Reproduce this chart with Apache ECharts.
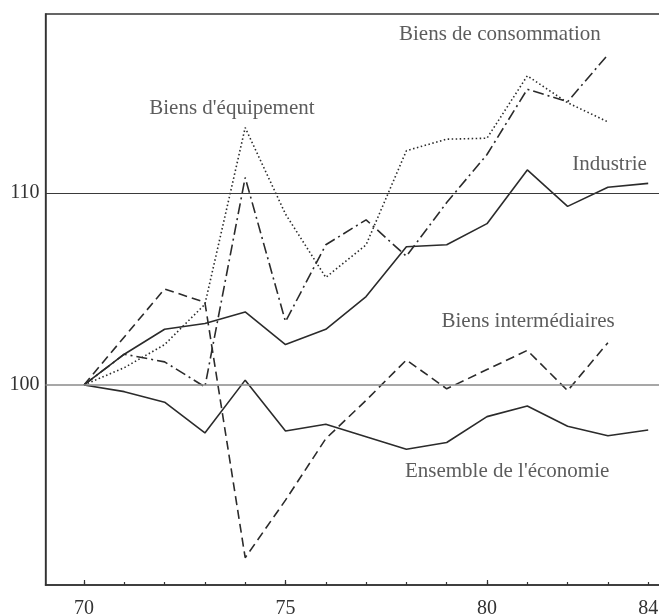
<!DOCTYPE html>
<html>
<head>
<meta charset="utf-8">
<script src="https://cdn.jsdelivr.net/npm/echarts@6/dist/echarts.min.js"></script>
<style>
  html, body { margin: 0; padding: 0; background: #ffffff; }
  #chart { width: 659px; height: 614px; }
</style>
</head>
<body>
<div id="chart"></div>
<script>
// ---- data ----
const years = [70, 71, 72, 73, 74, 75, 76, 77, 78, 79, 80, 81, 82, 83, 84];
const industrie      = [100, 101.6, 102.9, 103.2, 103.8, 102.1, 102.9, 104.6, 107.2, 107.3, 108.4, 111.2, 109.3, 110.3, 110.5];
const ensemble       = [100, 99.65, 99.1, 97.5, 100.25, 97.6, 97.95, 97.3, 96.65, 97.0, 98.35, 98.9, 97.85, 97.35, 97.65];
const equipement     = [100, 100.9, 102.1, 104.2, 113.4, 108.9, 105.6, 107.3, 112.2, 112.8, 112.85, 116.1, 114.7, 113.7, null];
const consommation   = [100, 101.6, 101.2, 99.9, 110.8, 103.3, 107.3, 108.6, 106.7, 109.5, 112.0, 115.4, 114.75, 117.2, null];
const intermediaires = [100, 102.5, 105.0, 104.3, 91.0, 94.0, 97.2, 99.2, 101.3, 99.8, 100.8, 101.8, 99.7, 102.2, null];

const xTickLabels = [70, 75, 80, 84];
const xMajorTicks = [70, 75, 80];
const yTickLabels = [100, 110];
const refLines = [100, 110];

// label anchors in data units
const labels = [
  { text: 'Biens de consommation', x: 80.32, y: 118.23 },
  { text: "Biens d'équipement", x: 73.67, y: 114.42 },
  { text: 'Industrie', x: 83.04, y: 111.46 },
  { text: 'Biens intermédiaires', x: 81.02, y: 103.28 },
  { text: "Ensemble de l'économie", x: 80.5, y: 95.47 }
];

const pairs = arr => years.map((y, i) => [y, arr[i]]).filter(p => p[1] !== null);

const FONT = '"Liberation Serif", "DejaVu Serif", serif';
const INK = '#2b2b2b';
const XMIN = 69.045, XMAX = 84.392;

const chart = echarts.init(document.getElementById('chart'), null, { renderer: 'canvas' });

function lineSeries(name, arr, type, width) {
  return {
    name, type: 'line', data: pairs(arr), xAxisIndex: 0, yAxisIndex: 0,
    symbol: 'none', silent: true, animation: false,
    lineStyle: { color: INK, width: width, type: type, cap: 'butt' }
  };
}

const series = [
  lineSeries('Industrie', industrie, 'solid', 1.6),
  lineSeries("Ensemble de l'économie", ensemble, 'solid', 1.6),
  lineSeries("Biens d'équipement", equipement, [1.5, 2.5], 1.6),
  lineSeries('Biens de consommation', consommation, [11, 4, 2, 4], 1.6),
  lineSeries('Biens intermédiaires', intermediaires, [9, 5], 1.6)
];

// reference lines at 100 and 110
series[0].markLine = {
  silent: true, symbol: 'none', animation: false,
  label: { show: false },
  data: [
    { yAxis: refLines[0], lineStyle: { color: '#8a8a8a', width: 1.6, type: 'solid' } },
    { yAxis: refLines[1], lineStyle: { color: '#3a3a3a', width: 1.1, type: 'solid' } }
  ]
};

// text annotations anchored in data coordinates
series.push({
  type: 'scatter', xAxisIndex: 0, yAxisIndex: 0, silent: true, animation: false,
  symbolSize: 0,
  data: labels.map(l => ({ value: [l.x, l.y], name: l.text })),
  label: {
    show: true, position: 'inside', formatter: p => p.name,
    fontFamily: FONT, fontSize: 21, color: '#333'
  }
});

chart.setOption({
  backgroundColor: '#ffffff',
  animation: false,
  grid: {
    left: 45.5, top: 14, right: -5, bottom: 29,
    outerBoundsMode: 'none', containLabel: false,
    show: true, borderColor: '#333', borderWidth: 1.3, backgroundColor: 'transparent'
  },
  xAxis: [
    {
      type: 'value', min: XMIN, max: XMAX,
      axisLine: { show: true, lineStyle: { color: '#333', width: 1.5 } },
      axisTick: { show: true, inside: true, length: 3, customValues: years, lineStyle: { color: '#333', width: 1.2 } },
      axisLabel: { show: true, customValues: xTickLabels, margin: 14, fontFamily: FONT, fontSize: 20, color: '#333' },
      splitLine: { show: false }
    },
    {
      type: 'value', min: XMIN, max: XMAX, position: 'bottom',
      axisLine: { show: false },
      axisTick: { show: true, inside: true, length: 5, customValues: xMajorTicks, lineStyle: { color: '#333', width: 1.2 } },
      axisLabel: { show: false },
      splitLine: { show: false }
    }
  ],
  yAxis: {
    type: 'value', min: 89.58, max: 119.32,
    axisLine: { show: true, lineStyle: { color: '#333', width: 1.5 } },
    axisTick: { show: false },
    axisLabel: { show: true, customValues: yTickLabels, margin: 6, fontFamily: FONT, fontSize: 20, color: '#333' },
    splitLine: { show: false }
  },
  series: series
});
</script>
</body>
</html>
